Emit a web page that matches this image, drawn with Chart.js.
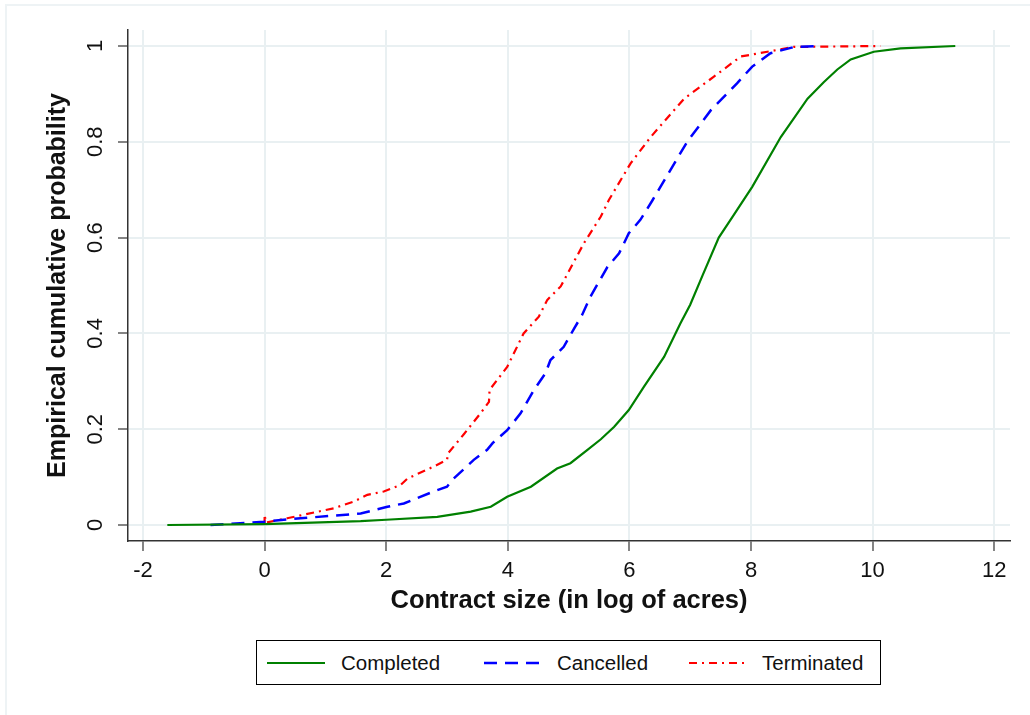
<!DOCTYPE html>
<html>
<head>
<meta charset="utf-8">
<script src="https://cdn.jsdelivr.net/npm/chart.js@4/dist/chart.umd.min.js"></script>
<style>
    body { margin: 0; background: #fff; font-family: "Liberation Sans", Arial, sans-serif; }
    #wrap { position: relative; width: 1030px; height: 715px; }
    #frame { position: absolute; left: 5px; top: 4px; right: 0; bottom: 0;
             border-left: 2px solid #eef3f5; border-top: 2px solid #eef3f5; }
    #legend { position: absolute; left: 256px; top: 640px; width: 623px; height: 43px;
              border: 1px solid #000; background: #fff; }
    .item { position: absolute; top: 0; height: 43px; line-height: 43px; font-size: 20.5px; color: #111; }
    .item svg { position: absolute; top: 19px; }
</style>
</head>
<body>
<div id="wrap">
    <div id="frame"></div>
    <canvas id="ecdfChart" width="1030" height="715"></canvas>
    <div id="legend">
        <div class="item" style="left:9px"><svg width="60" height="6"><line x1="1" y1="3" x2="59" y2="3" stroke="#008000" stroke-width="2.2"/></svg><span style="position:absolute;left:75px">Completed</span></div>
        <div class="item" style="left:226px"><svg width="60" height="6"><line x1="1" y1="3" x2="59" y2="3" stroke="#0000ff" stroke-width="2.5" stroke-dasharray="13 8"/></svg><span style="position:absolute;left:74px">Cancelled</span></div>
        <div class="item" style="left:431px"><svg width="60" height="6"><line x1="1" y1="3" x2="59" y2="3" stroke="#ff0000" stroke-width="2.2" stroke-dasharray="8 5 2 5"/></svg><span style="position:absolute;left:74px">Terminated</span></div>
    </div>
</div>
<script>
// ECDF curves (x = log of acres, y = cumulative probability)
const completedX = [-1.6, 0, 1.58, 2.0, 2.84, 3.39, 3.72, 3.99, 4.38, 4.81, 5.03, 5.31, 5.53, 5.75, 5.99, 6.24, 6.57, 6.84, 7.0, 7.2, 7.47, 7.72, 8.02, 8.49, 8.93, 9.2, 9.42, 9.64, 10.02, 10.46, 11.36];
const completedY = [0, 0.002, 0.008, 0.011, 0.017, 0.028, 0.038, 0.059, 0.08, 0.118, 0.129, 0.157, 0.179, 0.205, 0.24, 0.289, 0.351, 0.421, 0.46, 0.52, 0.6, 0.648, 0.706, 0.81, 0.89, 0.925, 0.951, 0.972, 0.988, 0.995, 1.0];

const cancelledX = [-0.89, -0.01, 0.59, 1.58, 2.02, 2.29, 2.78, 3.0, 3.11, 3.44, 3.66, 3.75, 3.99, 4.21, 4.43, 4.62, 4.7, 4.92, 5.09, 5.22, 5.36, 5.64, 5.83, 5.99, 6.18, 6.38, 6.95, 7.34, 7.77, 8.02, 8.32, 8.71, 9.14];
const cancelledY = [0, 0.007, 0.014, 0.024, 0.038, 0.045, 0.07, 0.08, 0.097, 0.136, 0.157, 0.171, 0.198, 0.233, 0.282, 0.317, 0.344, 0.372, 0.41, 0.438, 0.477, 0.539, 0.567, 0.609, 0.637, 0.678, 0.8, 0.866, 0.922, 0.957, 0.985, 0.998, 1.0];

const terminatedX = [0, 0, 0.02, 0.37, 1.14, 1.47, 1.69, 1.96, 2.24, 2.35, 2.78, 3.0, 3.02, 3.28, 3.55, 3.69, 3.7, 3.99, 4.26, 4.51, 4.65, 4.87, 5.25, 5.53, 5.66, 6.02, 6.35, 6.9, 7.39, 7.83, 8.27, 8.7, 10.13];
const terminatedY = [0, 0.022, 0.005, 0.014, 0.035, 0.049, 0.063, 0.07, 0.084, 0.097, 0.122, 0.136, 0.15, 0.19, 0.233, 0.257, 0.282, 0.33, 0.4, 0.435, 0.47, 0.498, 0.588, 0.644, 0.678, 0.755, 0.81, 0.89, 0.936, 0.978, 0.988, 0.998, 1.0];

const xTicks = [-2, 0, 2, 4, 6, 8, 10, 12];
const yTicks = [0, 0.2, 0.4, 0.6, 0.8, 1];

function toPoints(xs, ys) {
    return xs.map((x, i) => ({ x: x, y: ys[i] }));
}

document.addEventListener("DOMContentLoaded", function () {
    let ctx = document.getElementById("ecdfChart").getContext("2d");

    Chart.defaults.font.family = '"Liberation Sans", Arial, sans-serif';
    Chart.defaults.color = "#111";

    new Chart(ctx, {
        type: "scatter",
        data: {
            datasets: [{
                label: "Completed",
                data: toPoints(completedX, completedY),
                borderColor: "#008000",
                borderWidth: 2.2
            }, {
                label: "Cancelled",
                data: toPoints(cancelledX, cancelledY),
                borderColor: "#0000ff",
                borderWidth: 2.5,
                borderDash: [13, 8]
            }, {
                label: "Terminated",
                data: toPoints(terminatedX, terminatedY),
                borderColor: "#ff0000",
                borderWidth: 2.2,
                borderDash: [8, 5, 2, 5]
            }]
        },
        options: {
            responsive: false,
            animation: false,
            showLine: true,
            elements: { point: { radius: 0 }, line: { tension: 0 } },
            layout: { padding: { left: 0, right: 20, top: 30, bottom: 94 } },
            plugins: {
                legend: { display: false },
                tooltip: { enabled: false }
            },
            scales: {
                x: {
                    type: "linear",
                    min: -2.247,
                    max: 12.26,
                    afterBuildTicks: (scale) => { scale.ticks = xTicks.map(v => ({ value: v })); },
                    afterFit: (scale) => { scale.height = 80; },
                    grid: { color: "#e9f0f2", lineWidth: 2, tickLength: 10, tickColor: "#333", tickWidth: 1.2 },
                    border: { color: "#333", width: 1.5 },
                    ticks: { font: { size: 22 }, padding: 7, maxRotation: 0, callback: (v) => String(v) },
                    title: {
                        display: true,
                        text: "Contract size (in log of acres)",
                        font: { size: 25.5, weight: "bold" },
                        padding: { top: 0, bottom: 5 }
                    }
                },
                y: {
                    min: -0.0334,
                    max: 1.0334,
                    afterBuildTicks: (scale) => { scale.ticks = yTicks.map(v => ({ value: v })); },
                    afterFit: (scale) => { scale.width = 128; },
                    grid: { color: "#e9f0f2", lineWidth: 2, tickLength: 10, tickColor: "#333", tickWidth: 1.2 },
                    border: { color: "#333", width: 1.5 },
                    ticks: { font: { size: 22 }, padding: 7, minRotation: 90, maxRotation: 90, crossAlign: "center", callback: (v) => String(v) },
                    title: {
                        display: true,
                        text: "Empirical cumulative probability",
                        font: { size: 25, weight: "bold" },
                        padding: { top: 43, bottom: 0 }
                    }
                }
            }
        }
    });
});
</script>
</body>
</html>
